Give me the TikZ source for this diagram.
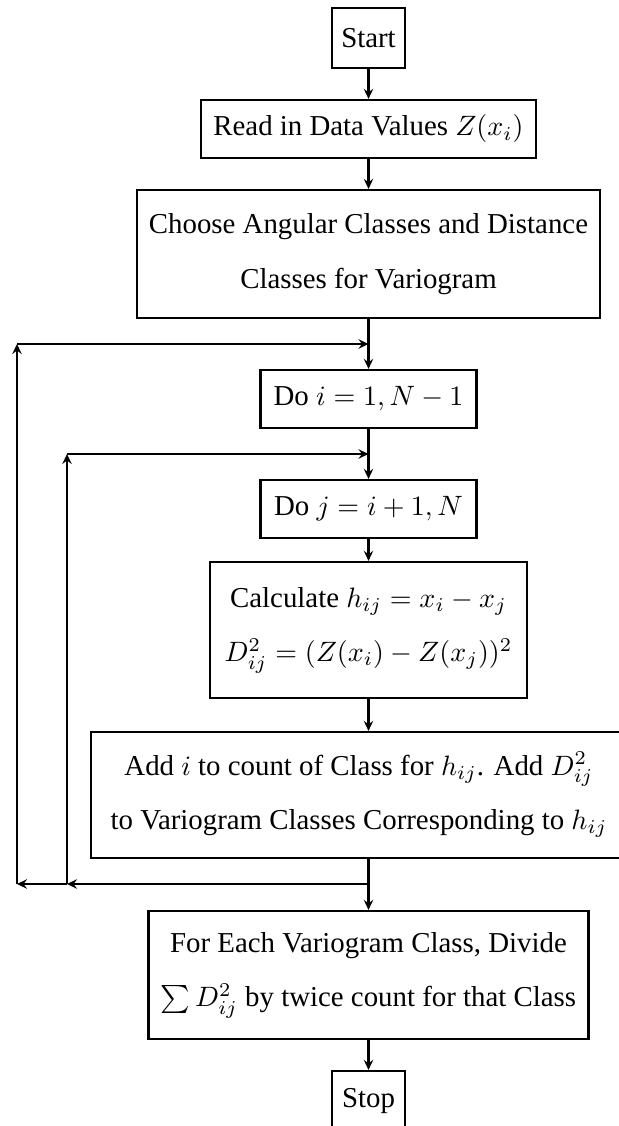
\documentclass[tikz,border=0pt]{standalone}
\usetikzlibrary{arrows.meta}
\usepackage{fontspec}
\setmainfont{Liberation Serif}
\begin{document}
\begin{tikzpicture}[x=0.357pt,y=-0.357pt,
  box/.style={draw, line width=0.8pt, inner sep=0pt, align=center, font=\fontsize{10.3}{19.5}\selectfont},
  sz/.style 2 args={minimum width=#1*0.357pt, minimum height=#2*0.357pt},
  flow/.style={-{Stealth[length=3.6pt,width=3.4pt,inset=1.3pt]}, line width=0.8pt}]
\useasboundingbox (0,0) rectangle (619,1126);
\clip (0,0) rectangle (619,1126);
\node[box, sz={73}{60}] (start) at (368.5,38) {Start};
\node[box, sz={335}{58}] (read) at (368.5,129) {Read in Data Values $Z(x_i)$};
\node[box, sz={463}{128}] (choose) at (368.5,254) {Choose Angular Classes and Distance\\Classes for Variogram};
\node[box, sz={216}{58}] (doi) at (368.5,399) {Do $i=1,N-1$};
\node[box, sz={216}{58}] (doj) at (368.5,509) {Do $j=i+1,N$};
\node[box, sz={317}{136}] (calc) at (368.5,630) {Calculate $h_{ij}=x_i-x_j$\\$D^2_{ij}=(Z(x_i)-Z(x_j))^2$};
\node[box, sz={536}{126}] (add) at (359,795) {Add $i$ to count of Class for $h_{ij}$. Add $D^2_{ij}$\\to Variogram Classes Corresponding to $h_{ij}$};
\node[box, sz={440}{128}] (for) at (368.5,975) {For Each Variogram Class, Divide\\$\sum D^2_{ij}$ by twice count for that Class};
\node[box, sz={73}{60}] (stop) at (368.5,1101) {Stop};
\coordinate (j1) at (368.5,344);
\coordinate (j2) at (368.5,454);
\coordinate (j3) at (368.5,884);
\coordinate (c1) at (17,884);
\coordinate (c2) at (17,344);
\coordinate (c3) at (67,884);
\coordinate (c4) at (67,454);
\draw[flow] (start) -- (read);
\draw[flow] (read) -- (choose);
\draw[flow] (choose) -- (doi);
\draw[flow] (doi) -- (doj);
\draw[flow] (doj) -- (calc);
\draw[flow] (calc.south) -- (calc.south |- add.north);
\draw[flow] (j3 |- add.south) -- (for.north);
\draw[flow] (for) -- (stop);
\draw[flow] (j3) -- (c3);
\draw[flow] (c3) -- (c1);
\draw[flow] (c1) -- (c2);
\draw[flow] (c2) -- (j1);
\draw[flow] (c3) -- (c4);
\draw[flow] (c4) -- (j2);
\end{tikzpicture}
\end{document}
